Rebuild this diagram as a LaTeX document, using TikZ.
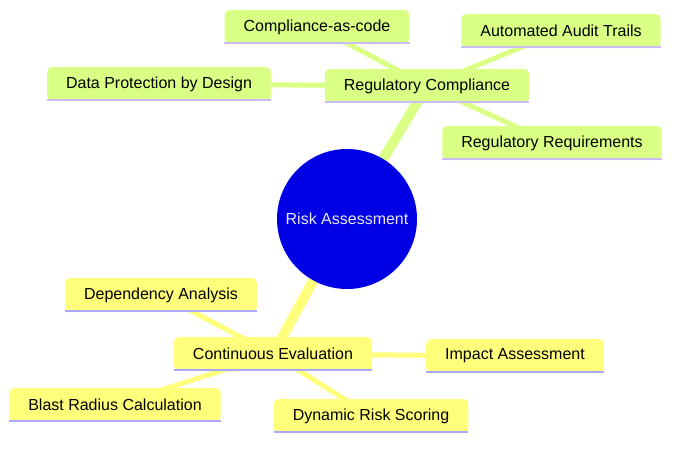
\documentclass[tikz,border=0pt]{standalone}
\usepackage{fontspec}
\setmainfont{Liberation Sans}
\usetikzlibrary{backgrounds}
\definecolor{rootblue}{RGB}{0,0,228}
\definecolor{limefill}{RGB}{217,255,132}
\definecolor{lemonfill}{RGB}{255,255,124}
\definecolor{limeline}{RGB}{204,186,255}
\definecolor{lemonline}{RGB}{168,168,255}
\tikzset{
  leaf/.style={rectangle, rounded corners=5pt, minimum height=34pt,
    inner xsep=19pt, font=\fontsize{16}{19}\selectfont, text=black},
  limebox/.style={leaf, fill=limefill},
  lemonbox/.style={leaf, fill=lemonfill},
  trunk/.style={line width=10pt},
  twig/.style={line width=5pt}
}

\begin{document}
\begin{tikzpicture}[x=1pt,y=-1pt]
  \useasboundingbox (0,0) rectangle (679,450);

  % Root
  \node[circle, fill=rootblue, minimum size=140pt, inner sep=0pt,
        text={rgb,255:red,232;green,232;blue,255},
        font=\fontsize{16}{19}\selectfont] (risk) at (347,219) {Risk Assessment};

  % Branches
  \node[limebox]  (regcomp)  at (427,86)  {Regulatory Compliance};
  \node[lemonbox] (conteval) at (273,354) {Continuous Evaluation};

  % Leaves
  \node[limebox]  (cac)      at (317,27)  {Compliance-as-code};
  \node[limebox]  (audit)    at (561,31)  {Automated Audit Trails};
  \node[limebox]  (dataprot) at (159,84)  {Data Protection by Design};
  \node[limebox]  (regreq)   at (552,143) {Regulatory Requirements};
  \node[lemonbox] (depend)   at (161,295) {Dependency Analysis};
  \node[lemonbox] (impact)   at (515,356) {Impact Assessment};
  \node[lemonbox] (blast)    at (115,405) {Blast Radius Calculation};
  \node[lemonbox] (dynamic)  at (371,416) {Dynamic Risk Scoring};

  % Bottom lines
  \foreach \n in {regcomp,cac,audit,dataprot,regreq}
    \fill[limeline] (\n.south west) rectangle ([yshift=2.5pt]\n.south east);
  \foreach \n in {conteval,depend,impact,blast,dynamic}
    \fill[lemonline] (\n.south west) rectangle ([yshift=2.5pt]\n.south east);

  % Edges
  \begin{scope}[on background layer]
    \draw[trunk, limefill]  (risk.center) -- (regcomp.center);
    \draw[trunk, lemonfill] (risk.center) -- (conteval.center);
    \foreach \n in {cac,audit,dataprot,regreq}
      \draw[twig, limefill] (regcomp.center) -- (\n.center);
    \foreach \n in {depend,impact,blast,dynamic}
      \draw[twig, lemonfill] (conteval.center) -- (\n.center);
  \end{scope}
\end{tikzpicture}
\end{document}
